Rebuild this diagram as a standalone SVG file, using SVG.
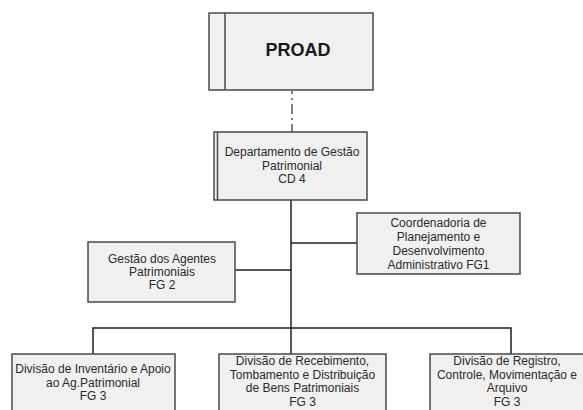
<svg xmlns="http://www.w3.org/2000/svg" width="583" height="410" viewBox="0 0 583 410">
  <style>
    .box { fill: #f0f0f0; stroke: #4a4a4a; stroke-width: 1.5; }
    .bar { fill: none; stroke: #4a4a4a; stroke-width: 1.5; }
    .wire { fill: none; stroke: #1e1e1e; stroke-width: 1.5; }
    .dashdot { fill: none; stroke: #555; stroke-width: 1.5; stroke-dasharray: 10 4 2 4; stroke-dashoffset: 7; }
    text { font-family: "Liberation Sans", Arial, sans-serif; font-size: 12px; fill: #2a2a2a; text-anchor: middle; }
    .title { font-size: 18px; font-weight: bold; fill: #1a1a1a; }
  </style>
  <rect width="583" height="410" fill="#ffffff"/>

  <g id="connectors">
    <line class="dashdot" x1="292" y1="91" x2="292" y2="132"/>
    <line class="wire" x1="291" y1="200" x2="291" y2="354"/>
    <line class="wire" x1="235" y1="270" x2="291" y2="270"/>
    <line class="wire" x1="291" y1="243" x2="357" y2="243"/>
    <polyline class="wire" points="93,354 93,328 511,328 511,354"/>
  </g>

  <g id="proad">
    <rect class="box" x="209" y="13" width="164" height="77"/>
    <line class="bar" x1="225" y1="13" x2="225" y2="90"/>
    <text class="title" x="298" y="56">PROAD</text>
  </g>

  <g id="departamento">
    <rect class="box" x="214" y="132" width="153" height="68"/>
    <line class="bar" x1="217.5" y1="132" x2="217.5" y2="200"/>
    <text x="292" y="156">Departamento de Gestão</text>
    <text x="292" y="169.5">Patrimonial</text>
    <text x="292" y="183">CD 4</text>
  </g>

  <g id="gestao-agentes">
    <rect class="box" x="88" y="242" width="147" height="60"/>
    <text x="162" y="263">Gestão dos Agentes</text>
    <text x="162" y="276">Patrimoniais</text>
    <text x="162" y="289">FG 2</text>
  </g>

  <g id="coordenadoria">
    <rect class="box" x="357" y="213" width="163" height="61"/>
    <text x="438.5" y="227">Coordenadoria de</text>
    <text x="438.5" y="240.5">Planejamento e</text>
    <text x="438.5" y="254.5">Desenvolvimento</text>
    <text x="438.5" y="268.5">Administrativo FG1</text>
  </g>

  <g id="divisao-inventario">
    <rect class="box" x="12" y="354" width="163" height="70"/>
    <text x="93" y="373">Divisão de Inventário e Apoio</text>
    <text x="93" y="386.5">ao Ag.Patrimonial</text>
    <text x="93" y="400">FG 3</text>
  </g>

  <g id="divisao-recebimento">
    <rect class="box" x="219" y="354" width="167" height="70"/>
    <text x="302.5" y="365">Divisão de Recebimento,</text>
    <text x="302.5" y="378.5">Tombamento e Distribuição</text>
    <text x="302.5" y="392">de Bens Patrimoniais</text>
    <text x="302.5" y="405.5">FG 3</text>
  </g>

  <g id="divisao-registro">
    <rect class="box" x="430" y="354" width="154" height="70"/>
    <text x="507" y="365">Divisão de Registro,</text>
    <text x="507" y="378.5">Controle, Movimentação e</text>
    <text x="507" y="392">Arquivo</text>
    <text x="507" y="405.5">FG 3</text>
  </g>
</svg>
